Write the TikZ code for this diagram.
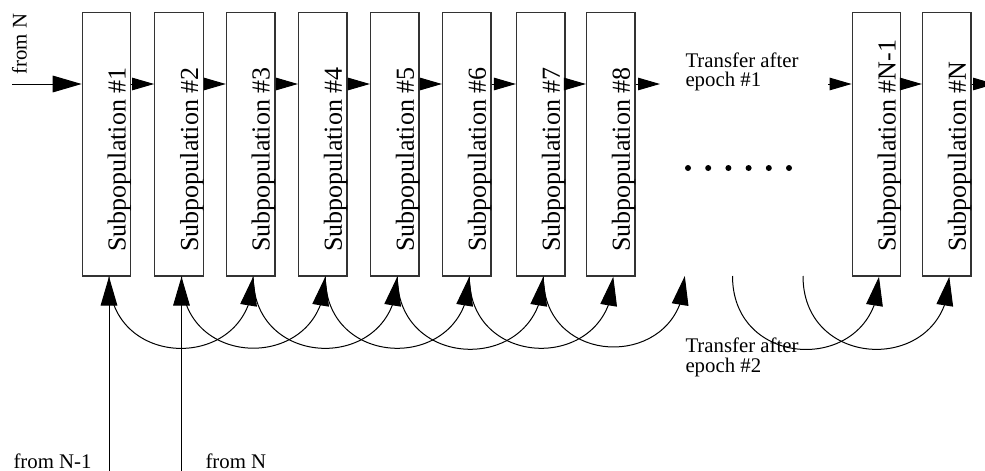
\documentclass[tikz,border=0pt]{standalone}
\usepackage{fontspec}
\setmainfont{Liberation Serif}
\usetikzlibrary{arrows.meta,bending}

\begin{document}
\begin{tikzpicture}[x=1pt,y=-1pt,line width=1pt]
                \tikzstyle{subpop}=[rectangle,draw=black!80,line width=1.3pt,minimum width=48.4pt,minimum height=263.3pt,inner sep=0pt]
                \tikzstyle{poplabel}=[rotate=90,anchor=base west,inner sep=0pt,font=\fontsize{26}{30}\selectfont]
                \tikzstyle{note}=[anchor=base west,inner sep=0pt,align=left,font=\fontsize{20.8}{19.5}\selectfont]
                \tikzstyle{bigarrow}=[-{Triangle[length=29pt,width=16.7pt,flex]}]
                \tikzstyle{smallarrow}=[-{Triangle[length=22pt,width=12.5pt]}]
                \useasboundingbox (0,0) rectangle (985,471);

                \foreach \num/\x in {1/106.5, 2/179, 3/250.7, 4/322.8, 5/394.8, 6/466.8, 7/540.8, 8/610.8, N-1/876.5, N/946.8}
                {
                        \node[subpop] (P-\num) at (\x,144.4) {};
                        \node[poplabel] (L-\num) at (\x+19,252) {Subpopulation \#\num};
                }

                \coordinate (feed-top) at (12,84);
                \coordinate (feed-1) at (109,471);
                \coordinate (feed-2) at (181.5,471);
                \coordinate (next-8) at (660,84);
                \coordinate (prev-N) at (828,84);
                \coordinate (next-N) at (995,84);
                \coordinate (gap-1) at (682.3,276);
                \coordinate (gap-2) at (730,276);
                \coordinate (gap-3) at (800.5,276);

                \draw[bigarrow] (feed-top) -- (feed-top -| P-1.west);
                    \foreach \from/\to in {1/2, 2/3, 3/4, 4/5, 5/6, 6/7, 7/8, N-1/N}
                        \draw[smallarrow] (P-\from.east |- feed-top) -- (P-\to.west |- feed-top);
                    \draw[smallarrow] (P-8.east |- feed-top) -- (next-8);
                    \draw[smallarrow] (prev-N) -- (P-N-1.west |- prev-N);
                    \draw[smallarrow] (P-N.east |- feed-top) -- (next-N);

                    \foreach \from/\to in {P-1/P-3, P-2/P-4, P-3/P-5, P-4/P-6, P-5/P-7, P-6/P-8, P-7/gap-1, gap-2/P-N-1, gap-3/P-N}
                        \draw[bigarrow] ([xshift=2.5pt]\from.south) to[out=-90,in=-90,looseness=1.7] ([xshift=2.5pt]\to.south);

                    \draw[bigarrow] (feed-1) -- (feed-1 |- P-1.south);
                    \draw[bigarrow] (feed-2) -- (feed-2 |- P-2.south);

                \foreach \i in {0,...,5}
                        \fill (688+\i*20.2,168) circle[radius=3];

                \node[note,rotate=90] (from-top) at (26.7,75) {from N};
                \node[note] (from-a) at (13,468) {from N-1};
                \node[note] (from-b) at (205,468) {from N};
                \node[note] (epoch-1) at (685,86.5) {Transfer after\\epoch \#1};
                \node[note] (epoch-2) at (685,372) {Transfer after\\epoch \#2};
            \end{tikzpicture}
\end{document}
